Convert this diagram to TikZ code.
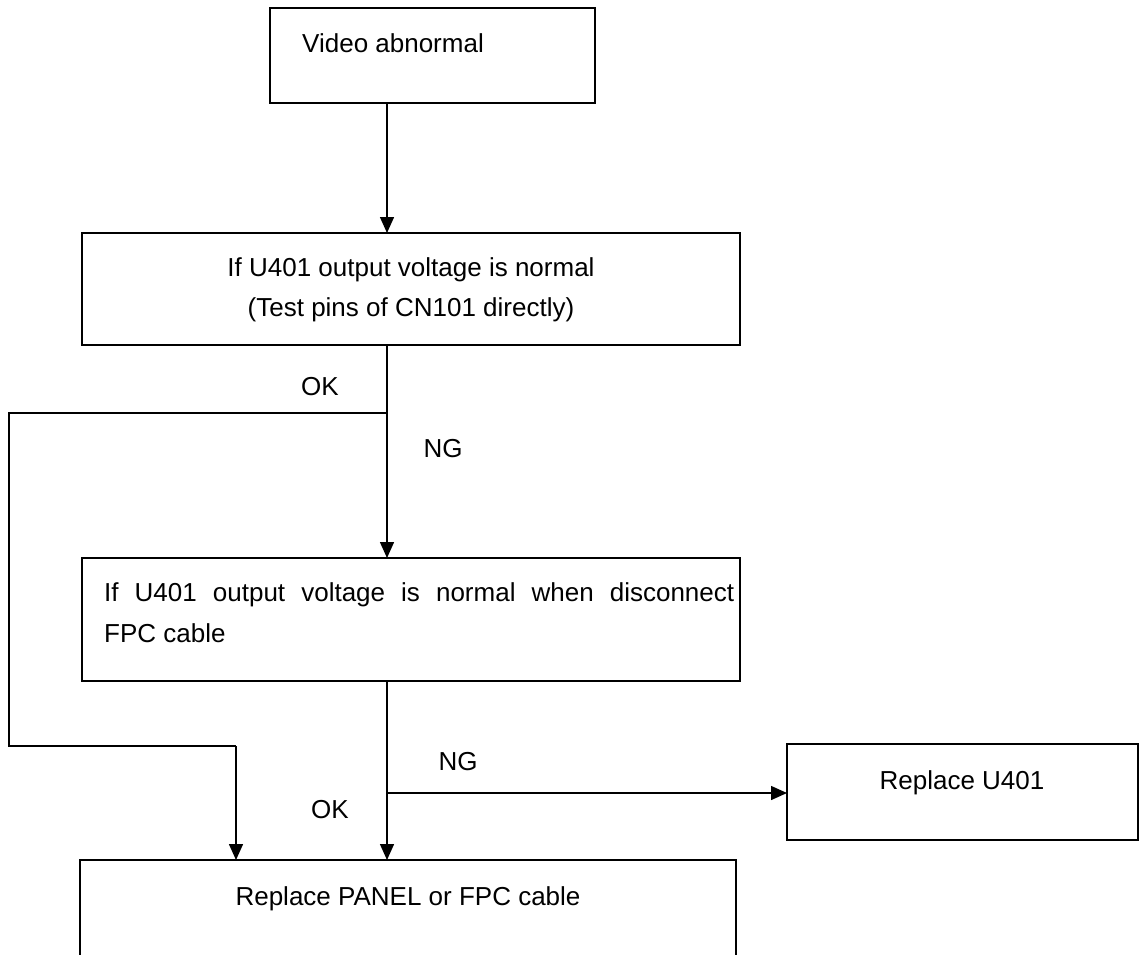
\documentclass[tikz,border=0pt]{standalone}
\usepackage{fontspec}
\setmainfont{Liberation Sans}
\usetikzlibrary{arrows.meta}
\begin{document}
\begin{tikzpicture}[x=1pt,y=-1pt,
  box/.style={draw, line width=1.7pt, inner sep=0pt, outer sep=0pt},
  txt/.style={font=\fontsize{26}{30}\selectfont, inner sep=0pt},
  conn/.style={line width=1.5pt},
  arr/.style={line width=1.5pt, -{Triangle[length=16pt,width=14pt]}}]
\useasboundingbox (0,0) rectangle (1140,955);
\clip (0,0) rectangle (1140,955);
% boxes
\node[box, minimum width=325pt, minimum height=95pt] (box1) at (432.5,55.5) {};
\node[box, minimum width=658pt, minimum height=112pt] (box2) at (411,289) {};
\node[box, minimum width=658pt, minimum height=123pt] (box3) at (411,619.5) {};
\node[box, minimum width=351pt, minimum height=96pt] (box4) at (962.5,792) {};
\node[box, minimum width=656pt, minimum height=200pt] (box5) at (408,960) {};
% texts
\node[txt, anchor=base west] (t1) at (302,53) {Video abnormal};
\node[txt, anchor=base] (t2a) at (411,276) {If U401 output voltage is normal};
\node[txt, anchor=base] (t2b) at (411,316) {(Test pins of CN101 directly)};
\node[txt, anchor=base west] (t3a) at (104,601) {\makebox[630pt][s]{If U401 output voltage is normal when disconnect}};
\node[txt, anchor=base west] (t3b) at (104,642) {FPC cable};
\node[txt, anchor=base] (t4) at (962,789) {Replace U401};
\node[txt, anchor=base] (t5) at (408,905) {Replace PANEL or FPC cable};
% labels
\node[txt] (ok1) at (320,387) {OK};
\node[txt] (ng1) at (443,449) {NG};
\node[txt] (ng2) at (458,762) {NG};
\node[txt] (ok2) at (330,810) {OK};
% junctions
\coordinate (c1) at (387,413);
\coordinate (c2) at (9,413);
\coordinate (c3) at (9,746);
\coordinate (c4) at (236,746);
\coordinate (c5) at (387,793);
% connectors
\draw[arr] (box1.south -| c1) -- (box2.north -| c1);
\draw[arr] (box2.south -| c1) -- (box3.north -| c1);
\draw[conn] (c1) -- (c2) -- (c3) -- (c4);
\draw[arr] (c4) -- (box5.north -| c4);
\draw[arr] (box3.south -| c1) -- (box5.north -| c1);
\draw[arr] (c5) -- (box4.west |- c5);
\end{tikzpicture}
\end{document}
